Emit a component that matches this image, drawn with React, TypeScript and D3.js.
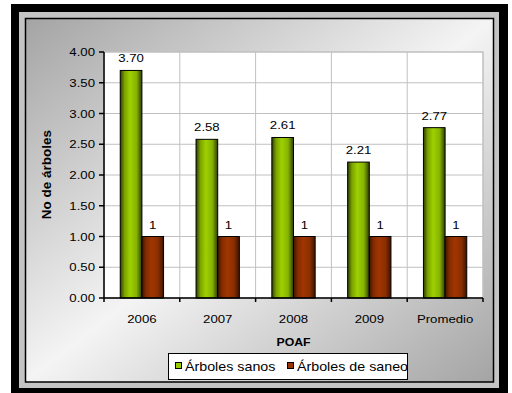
import React from "react";
import * as d3 from "d3";

const categories = ["2006", "2007", "2008", "2009", "Promedio"];
const arbolesSanos = [3.7, 2.58, 2.61, 2.21, 2.77];
const arbolesSaneo = [1, 1, 1, 1, 1];
const seriesNames = ["Árboles sanos", "Árboles de saneo"];
const yTicks = [0, 0.5, 1, 1.5, 2, 2.5, 3, 3.5, 4];
const xTitle = "POAF";
const yTitle = "No de árboles";

const W = 512;
const H = 393;
const FONT = "'Liberation Sans', Arial, Helvetica, sans-serif";
const SX = 1.2;

const T = ({ x, y, children, size = 11, anchor = "middle", bold = false, sx = SX }: any) => (
  <text
    transform={`translate(${x},${y}) scale(${sx},1)`}
    textAnchor={anchor}
    fontFamily={FONT}
    fontSize={size}
    fontWeight={bold ? "bold" : "normal"}
    fill="#000"
  >
    {children}
  </text>
);

export default function App() {
  const plot = { left: 104, right: 483, top: 52, bottom: 298 };
  const x0 = d3.scaleBand<string>().domain(categories).range([plot.left, plot.right]).padding(0);
  const x1 = d3
    .scaleBand<string>()
    .domain(seriesNames)
    .range([0, x0.bandwidth()])
    .paddingInner(0)
    .paddingOuter(0.75);
  const y = d3.scaleLinear().domain([0, 4]).range([plot.bottom, plot.top]);

  const series = [
    { name: seriesNames[0], values: arbolesSanos, fmt: d3.format(".2f"), grad: "gGreen", key: "#99cc00" },
    { name: seriesNames[1], values: arbolesSaneo, fmt: d3.format("d"), grad: "gRed", key: "#993300" },
  ];

  const boundaries = categories.map((c) => x0(c)!).concat([plot.right]);

  return (
    <svg width={W} height={H} style={{ position: "absolute", left: 0, top: 0 }}>
      <defs>
        <linearGradient id="bgGrad" x1="0" y1="0" x2="1" y2="1">
          <stop offset="0" stopColor="#a4a4a4" />
          <stop offset="0.5" stopColor="#f4f4f4" />
          <stop offset="1" stopColor="#a4a4a4" />
        </linearGradient>
        <linearGradient id="gGreen" x1="0" y1="0" x2="1" y2="0">
          <stop offset="0" stopColor="#2e3d00" />
          <stop offset="0.2" stopColor="#7aa300" />
          <stop offset="0.45" stopColor="#9fd000" />
          <stop offset="0.75" stopColor="#86b300" />
          <stop offset="1" stopColor="#2e3d00" />
        </linearGradient>
        <linearGradient id="gRed" x1="0" y1="0" x2="1" y2="0">
          <stop offset="0" stopColor="#3d1400" />
          <stop offset="0.2" stopColor="#852c00" />
          <stop offset="0.45" stopColor="#a03600" />
          <stop offset="0.75" stopColor="#8a2e00" />
          <stop offset="1" stopColor="#3d1400" />
        </linearGradient>
      </defs>

      {/* frame */}
      <rect x={11} y={4} width={497} height={395} fill="#000" />
      <rect x={19} y={12} width={480} height={376} fill="#c4c4c4" />
      <rect x={25.5} y={18.5} width={468} height={363.5} fill="url(#bgGrad)" stroke="#000" strokeWidth={1.5} />

      {/* plot area */}
      <rect x={plot.left} y={plot.top} width={plot.right - plot.left} height={plot.bottom - plot.top} fill="#fff" stroke="#bdbdbd" strokeWidth={1} />
      {yTicks.map((t) => (
        <line key={"h" + t} x1={plot.left} x2={plot.right} y1={y(t)} y2={y(t)} stroke="#c0c0c0" strokeWidth={1} />
      ))}
      {boundaries.map((b, i) => (
        <line key={"v" + i} x1={b} x2={b} y1={plot.top} y2={plot.bottom} stroke="#c0c0c0" strokeWidth={1} />
      ))}

      {/* bars */}
      {series.map((s) =>
        categories.map((c, i) => {
          const bx = x0(c)! + x1(s.name)!;
          const by = y(s.values[i]);
          return (
            <rect
              key={s.name + c}
              x={bx}
              y={by}
              width={x1.bandwidth()}
              height={y(0) - by}
              fill={`url(#${s.grad})`}
              stroke="#000"
              strokeWidth={1}
            />
          );
        })
      )}

      {/* data labels */}
      {series.map((s) =>
        categories.map((c, i) => (
          <T key={"l" + s.name + c} x={x0(c)! + x1(s.name)! + x1.bandwidth() / 2} y={y(s.values[i]) - 8}>
            {s.fmt(s.values[i])}
          </T>
        ))
      )}

      {/* axes */}
      <line x1={plot.left} x2={plot.left} y1={plot.top} y2={plot.bottom} stroke="#000" strokeWidth={1.5} />
      <line x1={plot.left} x2={plot.right} y1={plot.bottom} y2={plot.bottom} stroke="#000" strokeWidth={1.5} />
      {yTicks.map((t) => (
        <g key={"yt" + t}>
          <line x1={plot.left - 5} x2={plot.left} y1={y(t)} y2={y(t)} stroke="#000" strokeWidth={1.5} />
          <T x={95} y={y(t) + 4} anchor="end">
            {d3.format(".2f")(t)}
          </T>
        </g>
      ))}
      {boundaries.map((b, i) => (
        <line key={"xt" + i} x1={b} x2={b} y1={plot.bottom} y2={plot.bottom + 4} stroke="#000" strokeWidth={1.5} />
      ))}
      {categories.map((c) => (
        <T key={"xl" + c} x={x0(c)! + x0.bandwidth() / 2} y={322.5}>
          {c}
        </T>
      ))}

      {/* titles */}
      <T x={(plot.left + plot.right) / 2} y={345.5} bold size={11} sx={1.12}>
        {xTitle}
      </T>
      <text
        transform={`translate(51,174.5) rotate(-90)`}
        textAnchor="middle"
        fontFamily={FONT}
        fontSize={13.5}
        fontWeight="bold"
        fill="#000"
      >
        {yTitle}
      </text>

      {/* legend */}
      <rect x={168.5} y={353.5} width={239} height={26} fill="#fff" stroke="#000" strokeWidth={1} />
      {series.map((s, i) => {
        const lx = i === 0 ? 175 : 287;
        return (
          <g key={"lg" + s.name}>
            <rect x={lx + 0.5} y={362.5} width={6} height={6} fill={s.key} stroke="#000" strokeWidth={1} />
            <T x={lx + 10} y={370.5} anchor="start" size={12} sx={1.19}>
              {s.name}
            </T>
          </g>
        );
      })}
    </svg>
  );
}
